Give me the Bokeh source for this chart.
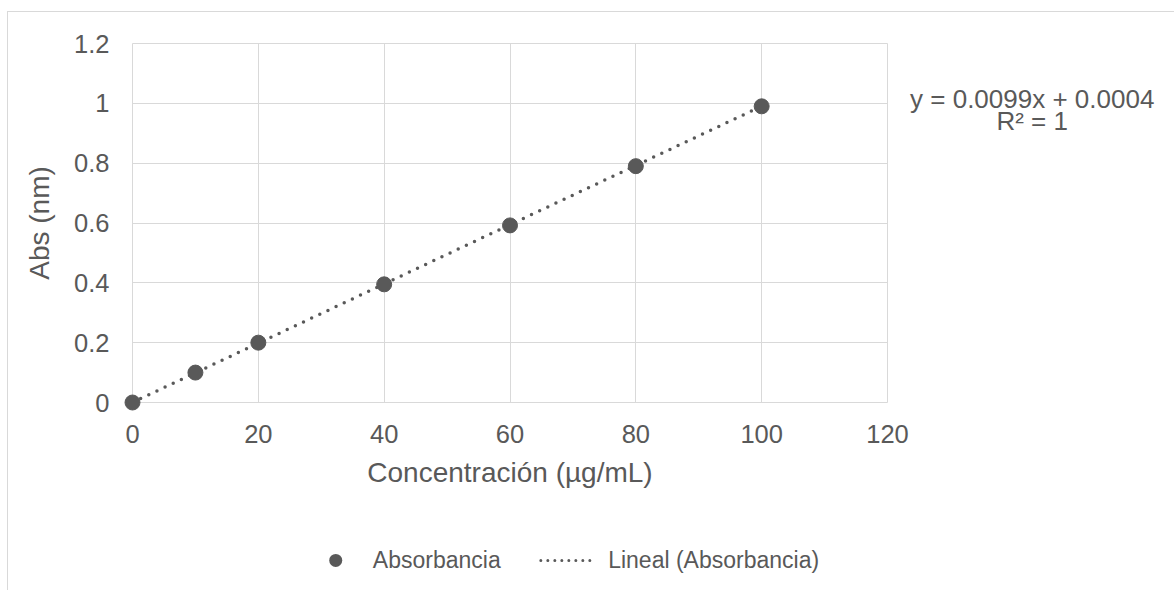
from bokeh.plotting import figure
from bokeh.models import FixedTicker, CustomJSTickFormatter, ColumnDataSource
from bokeh.core.properties import value
from bokeh.embed import file_html
from bokeh.resources import INLINE

# ---- data ----
conc = [0, 10, 20, 40, 60, 80, 100]
absorb = [0.0, 0.1, 0.2, 0.395, 0.592, 0.79, 0.99]
slope = 0.0099
intercept = 0.0004
r2 = 1
x_ticks = [0, 20, 40, 60, 80, 100, 120]
y_ticks = [0, 0.2, 0.4, 0.6, 0.8, 1.0, 1.2]
x_title = "Concentración (µg/mL)"
y_title = "Abs (nm)"
series_name = "Absorbancia"
trend_name = "Lineal (Absorbancia)"
eq_lines = [f"y = {slope}x + {intercept}", f"R² = {r2}"]

FONT = "Liberation Sans"
TXT = "#595959"
GRID = "#d9d9d9"

p = figure(width=1167, height=579, x_range=(0, 120), y_range=(0, 1.2),
           output_backend="svg", toolbar_location=None,
           min_border_left=124, min_border_right=288,
           min_border_top=31, min_border_bottom=189)
p.styles = {"margin-left": "7px", "margin-top": "11px",
            "border-left": "1px solid #d9d9d9", "border-top": "1px solid #d9d9d9"}
p.outline_line_color = GRID
p.background_fill_color = "white"
p.border_fill_color = "white"

for ax, ticks in ((p.xaxis[0], x_ticks), (p.yaxis[0], y_ticks)):
    ax.ticker = FixedTicker(ticks=ticks)
    ax.axis_line_color = None
    ax.major_tick_line_color = None
    ax.minor_tick_line_color = None
    ax.major_label_text_font = FONT
    ax.major_label_text_font_size = "25.5px"
    ax.major_label_text_color = TXT
    ax.axis_label_text_font = FONT
    ax.axis_label_text_font_size = "28px"
    ax.axis_label_text_color = TXT
    ax.axis_label_text_font_style = "normal"

p.yaxis[0].formatter = CustomJSTickFormatter(code="return String(Math.round(tick*10)/10);")
p.xaxis.axis_label = x_title
p.yaxis.axis_label = y_title
p.yaxis.major_label_standoff = 17
p.xaxis.major_label_standoff = 16
p.yaxis.axis_label_standoff = 16
p.xaxis.axis_label_standoff = 11

p.xgrid.ticker = FixedTicker(ticks=x_ticks)
p.ygrid.ticker = FixedTicker(ticks=y_ticks)
p.xgrid.grid_line_color = GRID
p.ygrid.grid_line_color = GRID

# trendline
tx = [conc[0], conc[-1]]
ty = [slope * v + intercept for v in tx]
p.line(tx, ty, line_dash="0 9", line_color=TXT, line_width=3.5, line_cap="round")

src = ColumnDataSource(dict(x=conc, y=absorb))
p.scatter("x", "y", source=src, size=15, level="overlay", marker="circle",
          fill_color=TXT, line_color=TXT)

text_style = dict(text_font=value(FONT), text_color=TXT, text_baseline="middle",
                  level="overlay")

# trendline equation (to the right of the plot area)
eq_src = ColumnDataSource(dict(x=[143, 143], y=[1.016, 0.94], t=eq_lines))
p.text("x", "y", text="t", source=eq_src, text_align="center",
       text_font_size="26px", **text_style)

# ---- legend below the chart (drawn outside the plot area) ----
LEG_Y = -0.528
# marker swatch: a round-capped stroke of (almost) zero length gives a dot
p.line([32.3, 32.305], [LEG_Y, LEG_Y], level="overlay",
       line_color=TXT, line_width=13, line_cap="round")
# dotted trendline swatch
p.line([64.9, 73.8], [LEG_Y, LEG_Y], line_dash="0 7", level="overlay",
       line_color=TXT, line_width=3, line_cap="round")
leg_src = ColumnDataSource(dict(x=[38.2, 75.6], y=[LEG_Y, LEG_Y],
                                t=[series_name, trend_name]))
p.text("x", "y", text="t", source=leg_src, text_align="left",
       text_font_size="23px", **text_style)

open("out.html", "w").write(file_html(p, INLINE))
